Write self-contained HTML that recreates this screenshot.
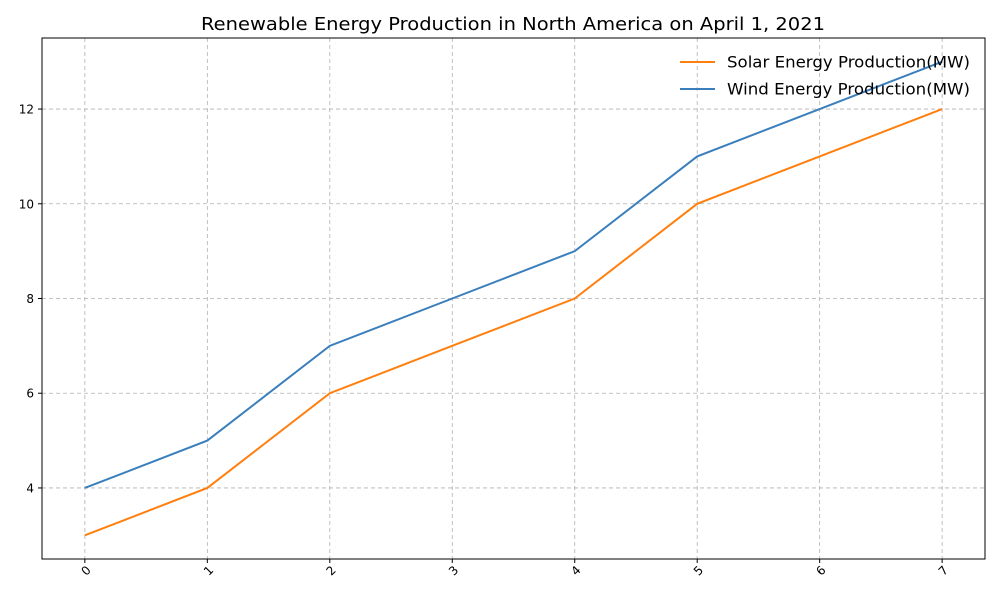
<!DOCTYPE html>
<html><head><meta charset="utf-8"><style>
body{margin:0;background:#fff;}
svg{display:block;font-family:"DejaVu Sans","Liberation Sans",sans-serif;}
</style></head><body>
<svg id="chart" width="1000" height="600">
<rect width="1000" height="600" fill="#fff"/>
<text x="513" y="30" text-anchor="middle" font-size="18" textLength="624" lengthAdjust="spacingAndGlyphs">Renewable Energy Production in North America on April 1, 2021</text>
<g id="grid"></g>
<g id="lines"></g>
<rect x="42" y="38" width="943" height="521" fill="none" stroke="#000" stroke-width="1"/>
<g id="ticks"></g>
<g>
<line x1="680" y1="62" x2="715" y2="62" stroke="#ff7f0e" stroke-width="2"/>
<text x="727" y="67.5" font-size="16" textLength="243" lengthAdjust="spacingAndGlyphs">Solar Energy Production(MW)</text>
<line x1="680" y1="89" x2="715" y2="89" stroke="#3a7fbc" stroke-width="2"/>
<text x="727" y="94.5" font-size="16" textLength="243" lengthAdjust="spacingAndGlyphs">Wind Energy Production(MW)</text>
</g>
</svg>
<script>
const categories=[0,1,2,3,4,5,6,7];
const solar=[3,4,6,7,8,10,11,12];
const wind=[4,5,7,8,9,11,12,13];
const yTicks=[4,6,8,10,12];
const NS='http://www.w3.org/2000/svg';
const L=42,R=985,T=38,B=559;
const xMin=-0.35,xMax=7.35,yMin=2.5,yMax=13.5;
const xs=v=>L+(v-xMin)/(xMax-xMin)*(R-L);
const ys=v=>B-(v-yMin)/(yMax-yMin)*(B-T);
function mk(tag,attrs,parent){const e=document.createElementNS(NS,tag);for(const k in attrs)e.setAttribute(k,attrs[k]);document.getElementById(parent).appendChild(e);return e;}
categories.forEach(c=>{
 const x=xs(c);
 const g=mk('line',{x1:x,x2:x,y1:T,y2:B,stroke:'#b0b0b0','stroke-dasharray':'4,3','stroke-width':0.8},'grid');
 
 
 mk('line',{x1:x,x2:x,y1:B,y2:B+4,stroke:'#000'},'ticks');
 const ax=x+4,ay=B+9;
 const t=mk('text',{x:ax,y:ay+4,'font-size':12,'text-anchor':'end',transform:`rotate(-45 ${ax} ${ay})`},'ticks');
 t.textContent=c;
 
 
});
yTicks.forEach(v=>{
 const y=ys(v);
 const g=mk('line',{x1:L,x2:R,y1:y,y2:y,stroke:'#b0b0b0','stroke-dasharray':'4,3','stroke-width':0.8},'grid');
 
 
 mk('line',{x1:L-4,x2:L,y1:y,y2:y,stroke:'#000'},'ticks');
 const t=mk('text',{x:L-8,y:y+4.5,'font-size':12,'text-anchor':'end'},'ticks');
 t.textContent=v;
 
 
});
function series(vals,color,name){
 const p=mk('polyline',{points:vals.map((v,i)=>xs(categories[i])+','+ys(v)).join(' '),fill:'none',stroke:color,'stroke-width':2},'lines');
 
 
}
series(solar,'#ff7f0e','solar-line');
series(wind,'#3a7fbc','wind-line');
</script>
</body></html>
